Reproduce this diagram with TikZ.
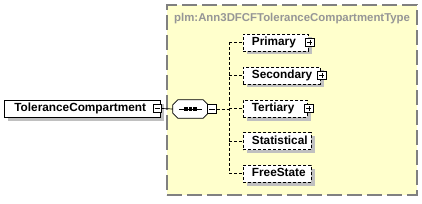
\documentclass[tikz,border=0pt]{standalone}
\usepackage{fontspec}
\setmainfont{Liberation Sans}
\usetikzlibrary{shadows}
\definecolor{boxyellow}{RGB}{255,255,204}
\definecolor{bordergray}{RGB}{128,128,128}
\definecolor{titlegray}{RGB}{150,150,150}
\definecolor{shadowgray}{RGB}{192,192,192}
\begin{document}
\begin{tikzpicture}[x=1pt,y=-1pt,
  lbl/.style={font=\fontsize{11.8}{13}\selectfont\bfseries},
  shad/.style={general shadow={shadow xshift=3.5pt,shadow yshift=-3.5pt,fill=shadowgray}},
  mainel/.style={lbl,draw=black,line width=0.8pt,fill=white,shad,minimum height=17pt,
    inner ysep=0pt,inner xsep=10pt,anchor=west,text height=8.5pt,text depth=2.5pt,align=left},
  childel/.style={lbl,draw=black,line width=0.8pt,dash pattern=on 3pt off 2pt,fill=white,shad,
    minimum height=17pt,inner ysep=0pt,inner xsep=8.5pt,anchor=west,text height=8.5pt,text depth=2.5pt,align=left},
  pmbox/.style={draw=black,line width=0.6pt,fill=white,minimum size=8.5pt,inner sep=0pt},
  plusbox/.style={pmbox,path picture={\draw[line width=0.6pt]
     ([xshift=1.6pt]path picture bounding box.west) -- ([xshift=-1.6pt]path picture bounding box.east)
     ([yshift=-1.6pt]path picture bounding box.north) -- ([yshift=1.6pt]path picture bounding box.south);}},
  minusbox/.style={pmbox,path picture={\draw[line width=0.6pt]
     ([xshift=1.6pt]path picture bounding box.west) -- ([xshift=-1.6pt]path picture bounding box.east);}},
  seqframe/.style={minimum width=35pt,minimum height=18pt,inner sep=0pt},
  conn/.style={line width=0.7pt,black},
  dconn/.style={line width=0.7pt,black,dash pattern=on 3pt off 2pt}
]
\useasboundingbox (0,0) rectangle (422,203);
% container
\node[draw=bordergray,line width=1.3pt,dash pattern=on 15pt off 5pt,fill=boxyellow,
  minimum width=250pt,minimum height=190pt,inner sep=0pt] (typebox) at (292,100) {};
\node[font=\fontsize{11.4}{13}\selectfont\bfseries,text=titlegray,anchor=west,inner sep=0pt] (title) at (174,18.5) {plm:Ann3DFCFToleranceCompartmentType};
% root element
\node[mainel,text width=136pt] (tc) at (4,108.5) {ToleranceCompartment};
\node[minusbox] (tcminus) at (157.5,108.5) {};
% sequence compositor (octagon)
\node[seqframe] (seq) at (190.5,109) {};
\def\octpath{([xshift=5pt]seq.north west) -- ([xshift=-5pt]seq.north east) -- ([yshift=-5pt]seq.north east)
  -- ([yshift=5pt]seq.south east) -- ([xshift=-5pt]seq.south east) -- ([xshift=5pt]seq.south west)
  -- ([yshift=5pt]seq.south west) -- ([yshift=-5pt]seq.north west) -- cycle}
\begin{scope}[shift={(3.5,3.5)}]
  \fill[shadowgray] \octpath;
\end{scope}
\draw[line width=0.8pt,fill=white] \octpath;
\node[minusbox] (seqminus) at (212,109) {};
\draw[line width=0.9pt] ([xshift=6pt]seq.west) -- ([xshift=-6pt]seq.east);
\foreach \dx in {-4.5,0,4.5} \fill ([xshift=\dx pt]seq.center) ++(-1.7pt,-1.7pt) rectangle ++(3.4pt,3.4pt);
% children
\node[childel,text width=48pt] (primary) at (243,42.5) {Primary};
\node[plusbox] (primaryplus) at ([xshift=1pt]primary.east) {};
\node[childel,text width=60pt] (secondary) at (243,75.5) {Secondary};
\node[plusbox] (secondaryplus) at ([xshift=1pt]secondary.east) {};
\node[childel,text width=47pt] (tertiary) at (243,108.5) {Tertiary};
\node[plusbox] (tertiaryplus) at ([xshift=1pt]tertiary.east) {};
\node[childel,text width=51pt] (statistical) at (243,141) {Statistical};
\node[childel,text width=51pt] (freestate) at (243,173.5) {FreeState};
% connectors
\coordinate (bus) at (229,0);
\draw[conn] (tcminus.east) -- (seq.west);
\draw[dconn] (seqminus.east) -- (bus |- seqminus.east);
\draw[dconn] (bus |- primary.west) -- (bus |- freestate.west);
\foreach \n in {primary,secondary,tertiary,statistical,freestate}
  \draw[dconn] (bus |- \n.west) -- (\n.west);
\end{tikzpicture}
\end{document}
